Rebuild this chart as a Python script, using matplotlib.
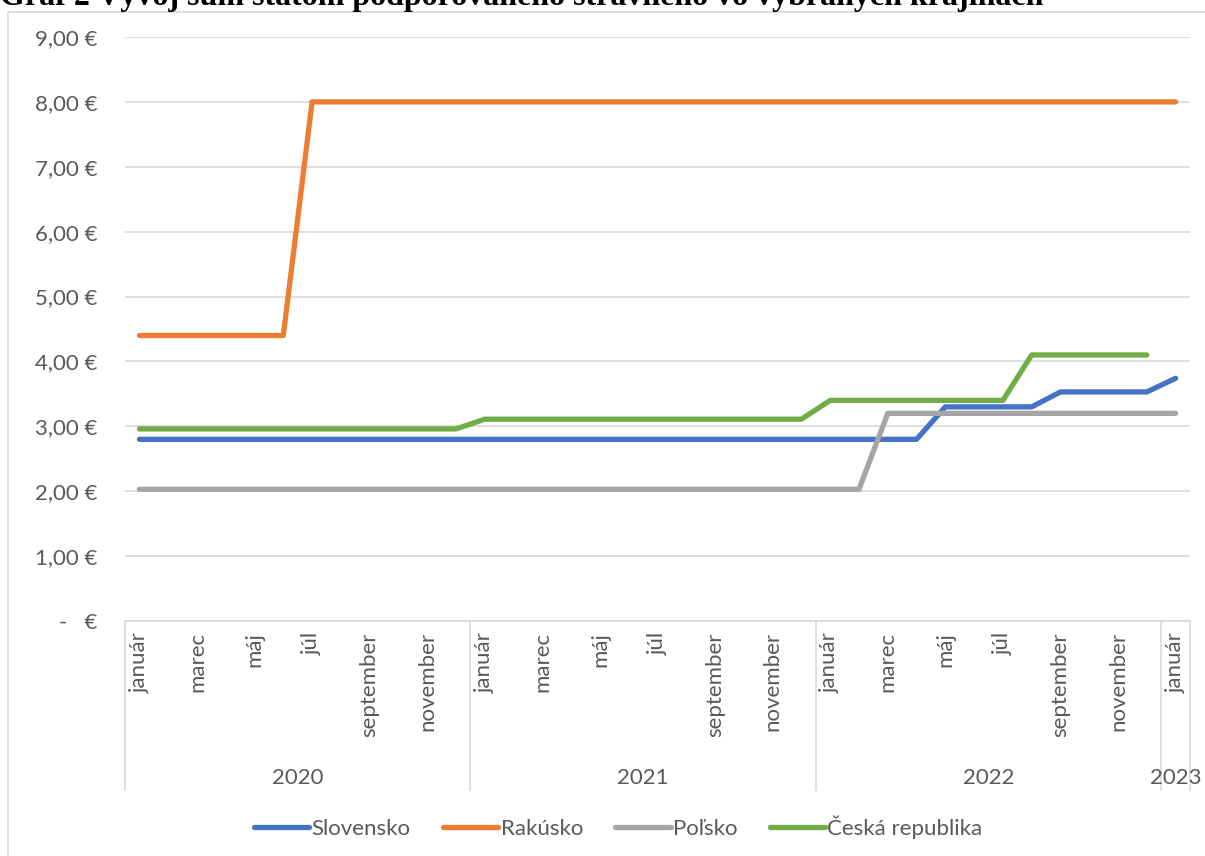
import matplotlib.pyplot as plt
import matplotlib.transforms as mtransforms
from matplotlib.patches import Rectangle
import numpy as np

# months jan 2020 .. jan 2023
month_labels = ["január", "", "marec", "", "máj", "", "júl", "", "september", "", "november", "",
                "január", "", "marec", "", "máj", "", "júl", "", "september", "", "november", "",
                "január", "", "marec", "", "máj", "", "júl", "", "september", "", "november", "",
                "január"]
years = ["2020", "2021", "2022", "2023"]
year_len = [12, 12, 12, 1]

slovensko = [2.80, 2.80, 2.80, 2.80, 2.80, 2.80, 2.80, 2.80, 2.80, 2.80, 2.80, 2.80,
             2.80, 2.80, 2.80, 2.80, 2.80, 2.80, 2.80, 2.80, 2.80, 2.80, 2.80, 2.80,
             2.80, 2.80, 2.80, 2.80, 3.30, 3.30, 3.30, 3.30, 3.53, 3.53, 3.53, 3.53,
             3.74]
rakusko = [4.40, 4.40, 4.40, 4.40, 4.40, 4.40, 8.00, 8.00, 8.00, 8.00, 8.00, 8.00,
           8.00, 8.00, 8.00, 8.00, 8.00, 8.00, 8.00, 8.00, 8.00, 8.00, 8.00, 8.00,
           8.00, 8.00, 8.00, 8.00, 8.00, 8.00, 8.00, 8.00, 8.00, 8.00, 8.00, 8.00,
           8.00]
polsko = [2.03, 2.03, 2.03, 2.03, 2.03, 2.03, 2.03, 2.03, 2.03, 2.03, 2.03, 2.03,
          2.03, 2.03, 2.03, 2.03, 2.03, 2.03, 2.03, 2.03, 2.03, 2.03, 2.03, 2.03,
          2.03, 2.03, 3.20, 3.20, 3.20, 3.20, 3.20, 3.20, 3.20, 3.20, 3.20, 3.20,
          3.20]
cesko = [2.96, 2.96, 2.96, 2.96, 2.96, 2.96, 2.96, 2.96, 2.96, 2.96, 2.96, 2.96,
         3.11, 3.11, 3.11, 3.11, 3.11, 3.11, 3.11, 3.11, 3.11, 3.11, 3.11, 3.11,
         3.40, 3.40, 3.40, 3.40, 3.40, 3.40, 3.40, 4.10, 4.10, 4.10, 4.10, 4.10,
         np.nan]

series = [("Slovensko", slovensko, "#4472C4"),
          ("Rakúsko", rakusko, "#ED7D31"),
          ("Poľsko", polsko, "#A5A5A5"),
          ("Česká republika", cesko, "#70AD47")]

plt.rcParams['font.family'] = ['Lato', 'DejaVu Sans']
txt = "#595959"
grid = "#d9d9d9"
fs = 16

fig = plt.figure(figsize=(12.05, 8.56), dpi=100)
ax = fig.add_axes([125/1205, 1-621/856, (1190-125)/1205, (621-37)/856])

x = np.arange(len(month_labels))
for name, vals, col in series:
    ax.plot(x, vals, color=col, lw=3.8, label=name, solid_capstyle='round', solid_joinstyle='round')

ax.set_xlim(-0.5, len(month_labels) - 0.5)
ax.set_ylim(0, 9)
ax.set_yticks(range(0, 10))
ax.set_yticklabels(["-   €"] + ["%d,00 €" % v for v in range(1, 10)], color=txt, fontsize=fs)
ax.yaxis.grid(True, color=grid, lw=1.2)
ax.set_axisbelow(True)
for s in ["top", "right", "left"]:
    ax.spines[s].set_visible(False)
ax.spines["bottom"].set_color(grid)
ax.spines["bottom"].set_linewidth(1.2)
ax.tick_params(axis="y", length=0, pad=20)
ax.tick_params(axis="x", length=0, pad=8)
ax.set_xticks(x)
ax.set_xticklabels(month_labels, rotation=90, color=txt, fontsize=fs, va="top")

# multi level category axis
trans = mtransforms.blended_transform_factory(ax.transData, ax.transAxes)
start = -0.5
bounds = [start]
for n in year_len:
    bounds.append(bounds[-1] + n)
for b in bounds:
    ax.plot([b, b], [0, -0.29], color=grid, lw=1.2, transform=trans, clip_on=False)
for i, y in enumerate(years):
    mid = (bounds[i] + bounds[i + 1]) / 2
    ax.text(mid, -0.268, y, transform=trans, ha="center", va="center", color=txt, fontsize=fs)

fig.legend(loc="center", bbox_to_anchor=(0.513, 1-827/856), ncol=4, frameon=False,
           fontsize=fs, handlelength=2.5, handletextpad=0.1, columnspacing=1.45,
           labelcolor=txt)

# chart border
fig.patches.append(Rectangle((8/1205, -0.05), 1.1, 1.05-12/856, transform=fig.transFigure,
                             fill=False, edgecolor=grid, lw=1.2))

fig.text(0, 1.003, "Graf 2 Vývoj súm štátom podporovaného stravného vo vybraných krajinách",
         family="Liberation Serif", weight="bold", fontsize=23, va="center", ha="left")

plt.savefig("out.png")
